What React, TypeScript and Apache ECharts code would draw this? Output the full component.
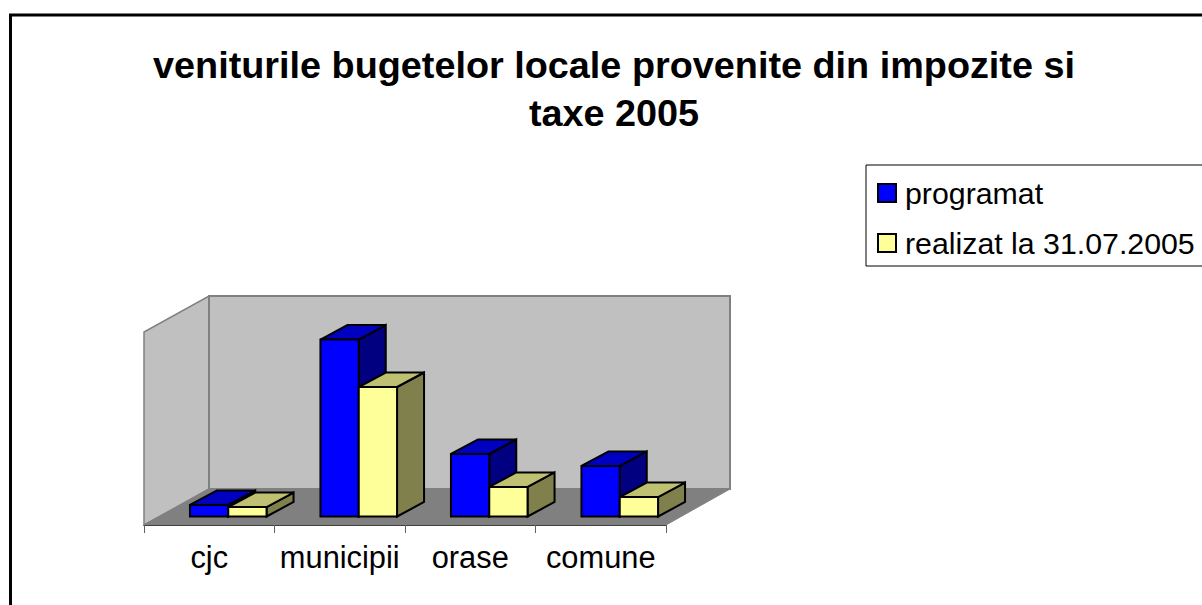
import React, { useEffect, useRef } from "react";
import * as echarts from "echarts";

const titleText = "veniturile bugetelor locale provenite din impozite si\ntaxe 2005";
const categories = ["cjc", "municipii", "orase", "comune"];
const programat = [6, 91.7, 32.4, 26.2];
const realizat = [4.9, 67.1, 15.3, 10.1];

const FONT = "Liberation Sans";
const GL = 144, GT = 332, GW = 522, GH = 193;
const WX = 65, WY = 36; // wall depth
const BX = 27, BY = 14.5; // bar depth
const OX = 19, OY = 8.5; // bars' offset from floor front
const BAR = 0.2935;

function barRender(slot: number, front: string, top: string, side: string) {
  return (_: any, api: any) => {
    const w = api.size([1, 0])[0] * BAR;
    const t = api.coord([api.value(0), api.value(1)]);
    const b = api.coord([api.value(0), 0]);
    const x0 = b[0] + OX + (slot === 0 ? -w : 0);
    const x1 = x0 + w;
    const yb = b[1] - OY;
    const yt = t[1] - OY;
    const style = { stroke: "#000", lineWidth: 2, lineJoin: "miter" };
    return {
      type: "group",
      children: [
        { type: "polygon", shape: { points: [[x1, yb], [x1 + BX, yb - BY], [x1 + BX, yt - BY], [x1, yt]] }, style: { ...style, fill: side } },
        { type: "polygon", shape: { points: [[x0, yt], [x1, yt], [x1 + BX, yt - BY], [x0 + BX, yt - BY]] }, style: { ...style, fill: top } },
        { type: "rect", shape: { x: x0, y: yt, width: w, height: yb - yt }, style: { ...style, fill: front } },
      ],
    };
  };
}

export default function App() {
  const ref = useRef<HTMLDivElement>(null);
  useEffect(() => {
    document.body.style.margin = "0";
    const chart = echarts.init(ref.current!, null, { renderer: "svg" });
    const wall = { stroke: "#808080", lineWidth: 2 };
    chart.setOption({
      animation: false,
      backgroundColor: "#fff",
      textStyle: { fontFamily: FONT },
      title: {
        text: titleText,
        left: 609,
        top: 36,
        textAlign: "center",
        textStyle: { fontFamily: FONT, fontSize: 37.8, fontWeight: "bold", color: "#000", lineHeight: 48 },
      },
      legend: {
        orient: "vertical",
        left: 866,
        top: 165,
        padding: [13, 14, 8, 11],
        itemGap: 20,
        itemWidth: 18,
        itemHeight: 18,
        backgroundColor: "#fff",
        borderColor: "#000",
        borderWidth: 1,
        selectedMode: false,
        textStyle: { fontFamily: FONT, fontSize: 30.3, color: "#000", padding: [0, 0, 0, 4] },
        data: [
          { name: "programat", icon: "rect", itemStyle: { color: "#0000ff", borderColor: "#000", borderWidth: 2 } },
          { name: "realizat la 31.07.2005", icon: "rect", itemStyle: { color: "#ffff99", borderColor: "#000", borderWidth: 2 } },
        ],
      },
      grid: { left: GL, top: GT, width: GW, height: GH, containLabel: false },
      xAxis: {
        type: "category",
        data: categories,
        boundaryGap: true,
        axisLine: { lineStyle: { color: "#404040", width: 1 } },
        axisTick: { show: true, length: 8, alignWithLabel: false, lineStyle: { color: "#606060", width: 1 } },
        axisLabel: { interval: 0, fontFamily: FONT, fontSize: 30.8, color: "#000", margin: 17 },
      },
      yAxis: { type: "value", min: 0, max: 100, show: false, splitLine: { show: false } },
      graphic: {
        elements: [
          { type: "rect", z: -1, shape: { x: 10.5, y: 15, width: 1300, height: 800 }, style: { fill: "#fff", stroke: "#000", lineWidth: 3 } },
          { type: "polygon", z: 0, shape: { points: [[GL, GT + GH], [GL + WX, GT + GH - WY], [GL + WX, GT - WY], [GL, GT]] }, style: { ...wall, lineWidth: 1.5, fill: "#c0c0c0" } },
          { type: "rect", z: 0, shape: { x: GL + WX, y: GT - WY, width: GW - 1, height: GH }, style: { ...wall, fill: "#c0c0c0" } },
          { type: "polygon", z: 0, shape: { points: [[GL, GT + GH], [GL + GW, GT + GH], [GL + GW + WX - 1, GT + GH - WY], [GL + WX, GT + GH - WY]] }, style: { ...wall, lineWidth: 1, fill: "#808080" } },
        ],
      },
      series: [
        { name: "programat", type: "custom", data: programat.map((v, i) => [i, v]), encode: { x: 0, y: 1 }, renderItem: barRender(0, "#0000ff", "#0000c0", "#000080"), z: 3, clip: false },
        { name: "realizat la 31.07.2005", type: "custom", data: realizat.map((v, i) => [i, v]), encode: { x: 0, y: 1 }, renderItem: barRender(1, "#ffff99", "#c0c073", "#80804d"), z: 4, clip: false },
      ],
    });
    return () => chart.dispose();
  }, []);
  return <div ref={ref} style={{ width: 1202, height: 605, overflow: "hidden" }} />;
}
